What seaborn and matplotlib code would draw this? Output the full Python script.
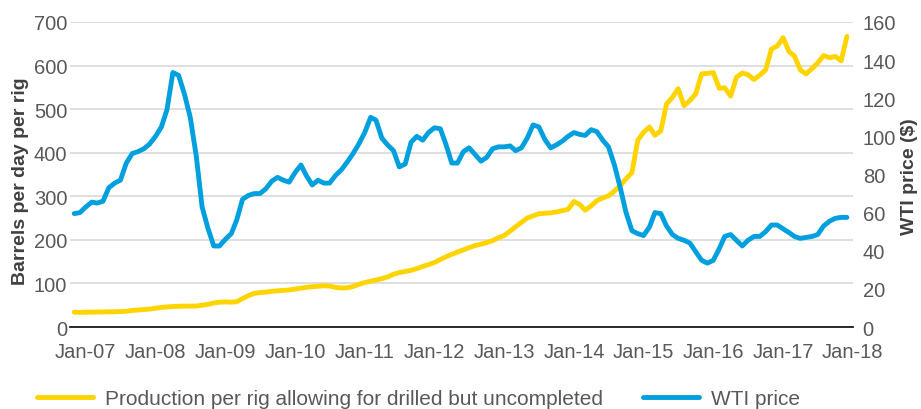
import pandas as pd
import matplotlib
matplotlib.use("Agg")
import matplotlib.pyplot as plt
import matplotlib.dates as mdates
import seaborn as sns

# monthly series, Nov-06 .. Dec-17
months = pd.date_range("2006-11-01", periods=134, freq="MS")

production_per_rig = [
    34, 33.5, 34, 34, 34.5, 34.5, 35, 35, 35.5, 36, 38, 39,
    40, 41, 43, 45, 46, 47, 47.5, 48, 48, 48, 50, 52,
    55, 57, 57.5, 57, 58, 65, 72, 77, 79, 80, 82, 83,
    84, 85, 87, 89, 91, 92.5, 93.5, 94.5, 94, 91, 89.5, 90,
    93, 98, 102, 105, 108, 111, 115, 121, 125, 127.5, 130, 134,
    139, 143, 148, 155, 161, 167, 172, 177, 182, 187, 190, 194,
    198, 205, 210, 220, 230, 240, 250, 255, 260, 261, 262, 264,
    267, 270, 288, 281, 268, 278, 290, 296, 301, 312, 325, 340,
    355, 428, 447, 459, 440, 450, 512, 527, 547, 508, 520, 535,
    581, 582, 584, 548, 549, 530, 573, 583, 579, 568, 578, 590,
    638, 645, 664, 632, 622, 590, 581, 593, 606, 623, 618, 621,
    611, 667,
]

wti_price = [
    59.5, 60, 63, 65.5, 65, 66, 73, 75.5, 77, 86, 91, 92,
    93.5, 96, 100, 105, 114, 133.5, 132, 122, 110, 90, 63, 52,
    42.5, 42.5, 46, 49, 56, 67, 69, 70, 70, 72.5, 76.5, 78.5,
    77, 76, 81, 85, 79.5, 74.5, 77, 75.5, 75.5, 79.5, 82.5, 86.5,
    91, 96, 102, 110, 108.5, 99, 95.5, 92.5, 84, 85.5, 97, 100,
    98, 102, 104.5, 104, 96, 86, 86, 92, 94, 90.5, 87, 89,
    93.5, 94.5, 94.5, 95, 92.5, 94, 99, 106, 105, 98.5, 94, 95.5,
    97.5, 100, 102, 101, 100.5, 103.5, 102.5, 98, 94.5, 85, 73, 60,
    50.5, 49, 48, 52.5, 60, 59.5, 53, 48.5, 46.5, 45.5, 44, 39.5,
    35, 33.5, 35, 41, 47.5, 48.5, 45.5, 42.5, 45.5, 47.5, 47.5, 50,
    53.5, 53.5, 51.5, 49.5, 47.5, 46.5, 47, 47.5, 48.5, 53, 55.5, 57,
    57.5, 57.5,
]

left_ticks = list(range(0, 701, 100))
right_ticks = list(range(0, 161, 20))
year_ticks = pd.date_range("2007-01-01", "2018-01-01", freq="YS")

label_prod = "Production per rig allowing for drilled but uncompleted"
label_wti = "WTI price"

YELLOW = "#FFD400"
BLUE = "#00A0DE"
GREY = "#595959"

sns.set_theme(style="white")
plt.rcParams['font.family'] = ['Liberation Sans', 'DejaVu Sans']

df = pd.DataFrame({"Month": months, "Production": production_per_rig, "WTI": wti_price})

fig, ax = plt.subplots(figsize=(9.21, 4.10), dpi=100)
fig.subplots_adjust(left=70/921, right=853/921, bottom=1-328/410, top=1-23/410)
ax2 = ax.twinx()

sns.lineplot(data=df, x="Month", y="Production", ax=ax, color=YELLOW, linewidth=3.5)
sns.lineplot(data=df, x="Month", y="WTI", ax=ax2, color=BLUE, linewidth=3.5)

ax.set_xlim(pd.Timestamp("2006-10-10"), pd.Timestamp("2018-01-02"))
ax.set_ylim(0, 700)
ax2.set_ylim(0, 160)
ax.set_yticks(left_ticks)
ax2.set_yticks(right_ticks)
ax.set_xticks(year_ticks)
ax.xaxis.set_major_formatter(mdates.DateFormatter("%b-%y"))

ax.yaxis.grid(True, color="#D9D9D9", linewidth=1.2)
ax.xaxis.grid(False)
ax.set_axisbelow(True)

for s in ["left", "right", "top"]:
    ax.spines[s].set_visible(False)
for s in ax2.spines.values():
    s.set_visible(False)
ax.spines["bottom"].set_color("#1a1a1a")
ax.spines["bottom"].set_linewidth(1.3)

ax.tick_params(axis="y", length=0, pad=2, labelsize=14.5, labelcolor=GREY)
ax.tick_params(axis="x", length=0, pad=10.5, labelsize=14.5, labelcolor=GREY)
ax2.tick_params(axis="y", length=0, pad=7, labelsize=14.5, labelcolor=GREY)

ax.set_xlabel("")
ax.set_ylabel("Barrels per day per rig", fontsize=14, fontweight="bold", color="#404040")
ax2.set_ylabel("WTI price ($)", fontsize=14, fontweight="bold", color="#404040")
ax.yaxis.set_label_coords(-0.052, 0.482)
ax2.yaxis.set_label_coords(1.061, 0.495)

handles = [ax.get_lines()[0], ax2.get_lines()[0]]
fig.legend(handles, [label_prod, label_wti], loc="center left",
           bbox_to_anchor=(37/921, 1-400/410), ncol=2, frameon=False,
           borderpad=0, borderaxespad=0, handlelength=2.7, handletextpad=0.58,
           columnspacing=1.9, fontsize=15, labelcolor=GREY)

plt.savefig("out.png", dpi=100)
plt.close()
